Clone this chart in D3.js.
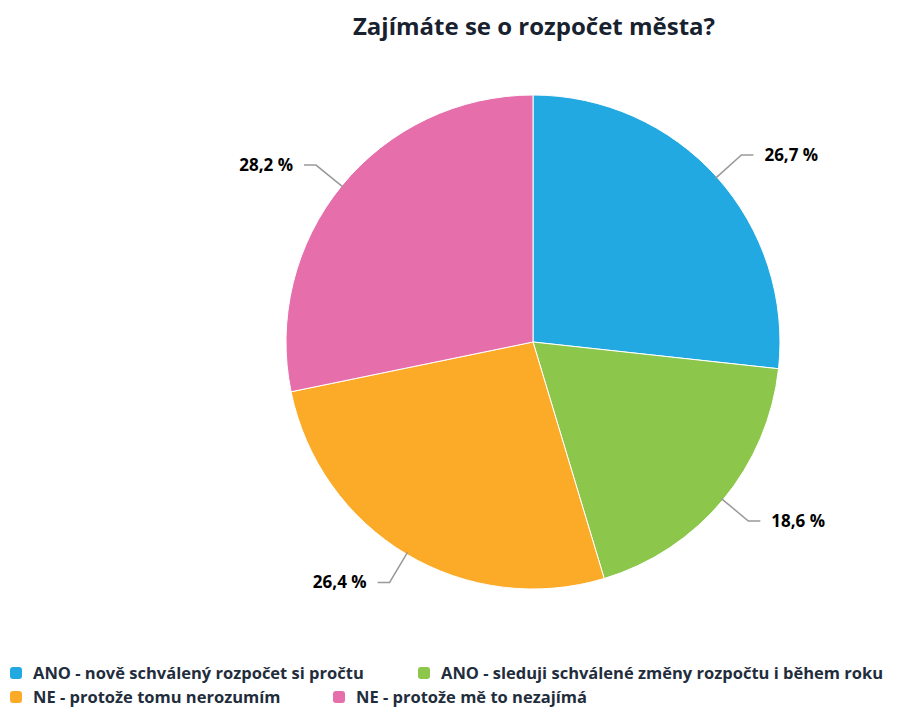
<!DOCTYPE html>
<html lang="cs">
<head>
<meta charset="utf-8">
<title>Zajímáte se o rozpočet města?</title>
<script src="https://cdn.jsdelivr.net/npm/d3@7"></script>
<style>
  body { margin: 0; background: #fff; }
  text { font-family: "Open Sans", sans-serif; }
</style>
</head>
<body>
<script>
// data
var categories = [
  "ANO - nově schválený rozpočet si pročtu",
  "ANO - sleduji schválené změny rozpočtu i během roku",
  "NE - protože tomu nerozumím",
  "NE - protože mě to nezajímá"
];
var values = [26.7, 18.6, 26.4, 28.2];
var colors = ["#22a9e1", "#8cc64a", "#fbab27", "#e56eab"];

var w = 901, h = 715;
var cx = 533, cy = 342, r = 247;

var svg = d3.select("body").append("svg")
  .attr("width", w)
  .attr("height", h);

// title
svg.append("text")
  .attr("x", 534)
  .attr("y", 35)
  .attr("text-anchor", "middle")
  .style("font-size", "24px")
  .style("font-weight", "bold")
  .style("fill", "#18222f")
  .text("Zajímáte se o rozpočet města?");

var pie = d3.pie().sort(null).value(function(d) { return d; });
var arcs = pie(values);

var arc = d3.arc().innerRadius(0).outerRadius(r);

var g = svg.append("g")
  .attr("transform", "translate(" + cx + "," + cy + ")");

g.selectAll("path.slice")
  .data(arcs)
  .enter()
  .append("path")
  .attr("class", "slice")
  .attr("d", arc)
  .attr("fill", function(d, i) { return colors[i]; })
  .attr("stroke", "#fff")
  .attr("stroke-width", 1);

// connectors and labels
function pt(a, rad) {
  return [Math.sin(a) * rad, -Math.cos(a) * rad];
}
function mid(d) { return (d.startAngle + d.endAngle) / 2; }

g.selectAll("path.conn")
  .data(arcs)
  .enter()
  .append("path")
  .attr("class", "conn")
  .attr("fill", "none")
  .attr("stroke", "#999")
  .attr("stroke-width", 1.5)
  .attr("d", function(d) {
    var a = mid(d);
    var p0 = pt(a, r - 2);
    var p1 = pt(a, r + 33);
    var right = Math.sin(a) > 0;
    var p2 = [p1[0] + (right ? 12 : -12), p1[1]];
    return "M" + p0 + "L" + p1 + "L" + p2;
  });

g.selectAll("text.lbl")
  .data(arcs)
  .enter()
  .append("text")
  .attr("class", "lbl")
  .attr("x", function(d) {
    var a = mid(d);
    var p1 = pt(a, r + 33);
    return Math.sin(a) > 0 ? p1[0] + 23 : p1[0] - 23;
  })
  .attr("y", function(d) {
    return pt(mid(d), r + 33)[1] + 6;
  })
  .attr("text-anchor", function(d) {
    return Math.sin(mid(d)) > 0 ? "start" : "end";
  })
  .style("font-size", "17px")
  .style("font-weight", "bold")
  .style("fill", "#000")
  .text(function(d) { return String(d.data).replace(".", ",") + " %"; });

// legend (flowing layout like the original)
var legendPos = [[10, 673], [418, 673], [10, 697], [333, 697]];

var leg = svg.selectAll("g.legend")
  .data(categories)
  .enter()
  .append("g")
  .attr("class", "legend")
  .attr("transform", function(d, i) {
    return "translate(" + legendPos[i][0] + "," + legendPos[i][1] + ")";
  });

leg.append("rect")
  .attr("x", 0)
  .attr("y", -6)
  .attr("width", 12)
  .attr("height", 12)
  .attr("rx", 3)
  .attr("fill", function(d, i) { return colors[i]; });

leg.append("text")
  .attr("x", 23)
  .attr("y", 6)
  .style("font-size", "16.5px")
  .style("font-weight", "bold")
  .style("fill", "#1f2d3c")
  .text(function(d) { return d; });
</script>
</body>
</html>
